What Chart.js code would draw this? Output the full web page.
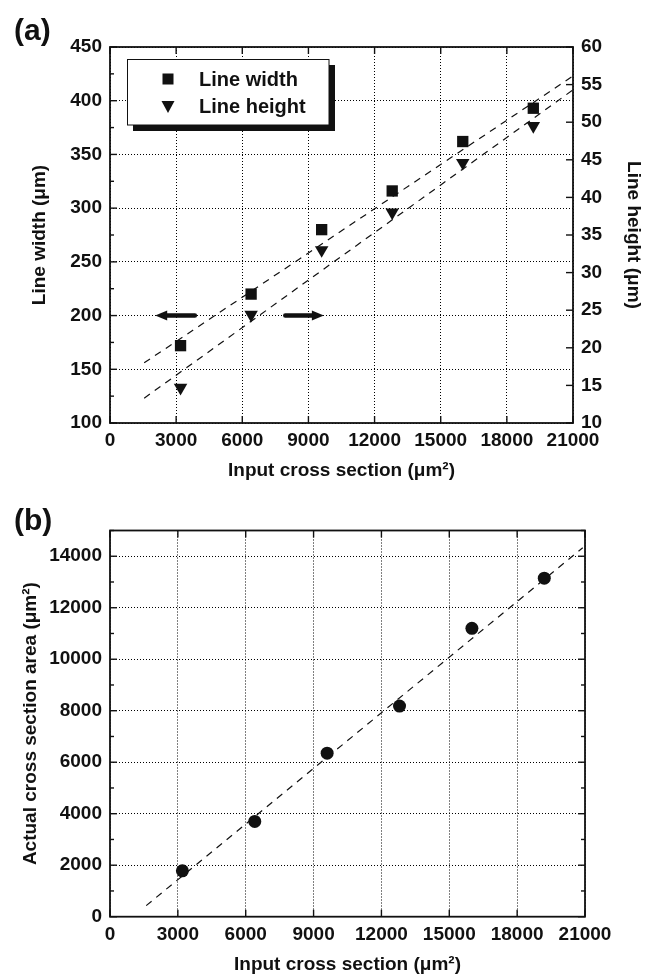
<!DOCTYPE html>
<html>
<head>
<meta charset="utf-8">
<script src="https://cdn.jsdelivr.net/npm/chart.js@4.4.1/dist/chart.umd.min.js"></script>
<style>
  html, body { margin: 0; padding: 0; background: #fff; }
  #wrap { position: relative; width: 658px; height: 977px; }
  #wrap canvas { position: absolute; left: 0; }
  .tag { position: absolute; left: 14px; font: bold 30px "Liberation Sans", Arial, sans-serif; line-height: 30px; color: #111; }
</style>
</head>
<body>
<div id="wrap">
  <canvas id="chartA" width="658" height="490" style="top:0"></canvas>
  <canvas id="chartB" width="658" height="487" style="top:490px"></canvas>
  <div class="tag" style="top:15px">(a)</div>
  <div class="tag" style="top:505px">(b)</div>
</div>
<script>
const inputArea  = [3200, 6400, 9600, 12800, 16000, 19200];
const lineWidth  = [172, 220, 280, 316, 362, 393];
const lineHeight = [14.7, 24.4, 33.0, 38.0, 44.6, 49.5];
const actualArea = [1780, 3700, 6350, 8180, 11200, 13150];

// dashed linear fits (end points)
const widthFitX  = [1550, 21000], widthFitY  = [156, 423];
const heightFitX = [1550, 21000], heightFitY = [13.3, 54.3];
const areaFitX   = [1600, 20900], areaFitY   = [430, 14330];

// axis-hint arrows in panel (a), on the left axis scale
const arrowTail  = [3850, 7950];
const arrowTip   = [2050, 9700];
const arrowLevel = [200, 200];

const INK = '#111';
Chart.defaults.font.family = '"Liberation Sans", Arial, sans-serif';
Chart.defaults.font.size = 19;
Chart.defaults.font.weight = 'bold';
Chart.defaults.color = INK;

const pts = (xs, ys) => xs.map((x, i) => ({ x: x, y: ys[i] }));
const plain = (v) => String(v);

function gridOpts(show) {
  return {
    display: true,
    drawOnChartArea: show,
    drawTicks: false,
    color: '#000',
    lineWidth: 1,
    borderDash: [1, 2]
  };
}
const noBorder = { display: false, dash: [1, 2] };

// frame + inward tick marks, drawn through the chart's scales
function frameTicks(chart, spec) {
  const { ctx, chartArea: a } = chart;
  ctx.save();
  ctx.strokeStyle = INK;
  ctx.lineWidth = 1.8;
  ctx.setLineDash([]);
  ctx.strokeRect(a.left, a.top, a.right - a.left, a.bottom - a.top);
  ctx.lineWidth = 1.4;
  spec.forEach(s => {
    const sc = chart.scales[s.axis];
    for (let v = sc.min; v <= sc.max + 1e-9; v += s.minor) {
      const major = Math.abs(Math.round(v / s.major) * s.major - v) < 1e-6;
      const len = major ? 7 : 4;
      const p = sc.getPixelForValue(v);
      ctx.beginPath();
      if (s.side === 'left')   { ctx.moveTo(a.left, p);   ctx.lineTo(a.left + len, p); }
      if (s.side === 'right')  { ctx.moveTo(a.right, p);  ctx.lineTo(a.right - len, p); }
      if (s.side === 'bottom') { ctx.moveTo(p, a.bottom); ctx.lineTo(p, a.bottom - len); }
      if (s.side === 'top')    { ctx.moveTo(p, a.top);    ctx.lineTo(p, a.top + len); }
      ctx.stroke();
    }
  });
  ctx.restore();
}

function drawArrows(chart) {
  const { ctx } = chart;
  const xs = chart.scales.x, ys = chart.scales.y;
  ctx.save();
  ctx.fillStyle = INK;
  ctx.strokeStyle = INK;
  arrowTail.forEach((t, i) => {
    const x0 = xs.getPixelForValue(t), x1 = xs.getPixelForValue(arrowTip[i]);
    const y = ys.getPixelForValue(arrowLevel[i]);
    const dir = Math.sign(x1 - x0);
    const head = 12;
    ctx.lineWidth = 4.5;
    ctx.lineCap = 'round';
    ctx.beginPath();
    ctx.moveTo(x0, y);
    ctx.lineTo(x1 - dir * head, y);
    ctx.stroke();
    ctx.beginPath();
    ctx.moveTo(x1, y);
    ctx.lineTo(x1 - dir * head, y - 5);
    ctx.lineTo(x1 - dir * head, y + 5);
    ctx.closePath();
    ctx.fill();
  });
  ctx.restore();
}

function drawLegendBox(chart) {
  const { ctx } = chart;
  ctx.save();
  ctx.fillStyle = INK;
  ctx.fillRect(133, 65, 202, 66);
  ctx.fillStyle = '#fff';
  ctx.fillRect(127.5, 59.5, 201.5, 65.5);
  ctx.strokeStyle = INK;
  ctx.lineWidth = 1;
  ctx.strokeRect(127.5, 59.5, 201.5, 65.5);
  ctx.fillStyle = INK;
  ctx.fillRect(162.5, 73.5, 11, 11);
  ctx.beginPath();
  ctx.moveTo(161.5, 101);
  ctx.lineTo(174.5, 101);
  ctx.lineTo(168, 113);
  ctx.closePath();
  ctx.fill();
  ctx.font = 'bold 20px "Liberation Sans", Arial, sans-serif';
  ctx.textBaseline = 'alphabetic';
  ctx.fillText('Line width', 199, 86);
  ctx.fillText('Line height', 199, 113);
  ctx.restore();
}

const fixedSize = (w, h) => (scale) => {
  if (w !== undefined) scale.width = w;
  if (h !== undefined) scale.height = h;
};

// ---------- panel (a) ----------
new Chart(document.getElementById('chartA').getContext('2d'), {
  type: 'scatter',
  data: {
    datasets: [
      { label: 'Line width', data: pts(inputArea, lineWidth), yAxisID: 'y',
        pointStyle: 'rect', pointRadius: 8, backgroundColor: INK, borderColor: INK, borderWidth: 0 },
      { label: 'Line height', data: pts(inputArea, lineHeight), yAxisID: 'y2',
        pointStyle: 'triangle', rotation: 180, pointRadius: 7.8, backgroundColor: INK, borderColor: INK, borderWidth: 0 },
      { label: 'width fit', data: pts(widthFitX, widthFitY), yAxisID: 'y', showLine: true,
        borderColor: INK, borderWidth: 1.2, borderDash: [7, 6], pointRadius: 0 },
      { label: 'height fit', data: pts(heightFitX, heightFitY), yAxisID: 'y2', showLine: true,
        borderColor: INK, borderWidth: 1.2, borderDash: [7, 6], pointRadius: 0 }
    ]
  },
  options: {
    responsive: false,
    animation: false,
    events: [],
    layout: { padding: { top: 47, left: 0, right: 0, bottom: 0 } },
    plugins: { legend: { display: false }, tooltip: { enabled: false } },
    scales: {
      x: {
        type: 'linear', min: 0, max: 21000,
        ticks: { stepSize: 3000, padding: 6, callback: plain, maxRotation: 0 },
        grid: gridOpts(true), border: noBorder,
        title: { display: true, text: 'Input cross section (\u03bcm\u00b2)', padding: { top: 0, bottom: 8 } },
        afterFit: fixedSize(undefined, 67)
      },
      y: {
        type: 'linear', position: 'left', min: 100, max: 450,
        ticks: { stepSize: 50, padding: 8, callback: plain },
        grid: gridOpts(true), border: noBorder,
        title: { display: true, text: 'Line width (\u03bcm)', padding: { top: 28, bottom: 0 } },
        afterFit: fixedSize(110)
      },
      y2: {
        type: 'linear', position: 'right', min: 10, max: 60,
        ticks: { stepSize: 5, padding: 8, callback: plain },
        grid: gridOpts(false), border: noBorder,
        title: { display: true, text: 'Line height (\u03bcm)', padding: { top: 13, bottom: 0 } },
        afterFit: fixedSize(85)
      }
    }
  },
  plugins: [{
    id: 'decorA',
    afterDraw(chart) {
      frameTicks(chart, [
        { axis: 'y', side: 'left', major: 50, minor: 25 },
        { axis: 'y2', side: 'right', major: 5, minor: 5 },
        { axis: 'x', side: 'bottom', major: 3000, minor: 3000 },
        { axis: 'x', side: 'top', major: 3000, minor: 3000 }
      ]);
      drawArrows(chart);
      drawLegendBox(chart);
    }
  }]
});

// ---------- panel (b) ----------
new Chart(document.getElementById('chartB').getContext('2d'), {
  type: 'scatter',
  data: {
    datasets: [
      { label: 'Actual area', data: pts(inputArea, actualArea),
        pointStyle: 'circle', pointRadius: 6.5, backgroundColor: INK, borderColor: INK, borderWidth: 0 },
      { label: 'area fit', data: pts(areaFitX, areaFitY), showLine: true,
        borderColor: INK, borderWidth: 1.2, borderDash: [7, 6], pointRadius: 0 }
    ]
  },
  options: {
    responsive: false,
    animation: false,
    events: [],
    layout: { padding: { top: 40.5, left: 0, right: 73, bottom: 0 } },
    plugins: { legend: { display: false }, tooltip: { enabled: false } },
    scales: {
      x: {
        type: 'linear', min: 0, max: 21000,
        ticks: { stepSize: 3000, padding: 7, callback: plain, maxRotation: 0 },
        grid: gridOpts(true), border: noBorder,
        title: { display: true, text: 'Input cross section (\u03bcm\u00b2)', padding: { top: 0, bottom: 1 } },
        afterFit: fixedSize(undefined, 60.3)
      },
      y: {
        type: 'linear', position: 'left', min: 0, max: 15000,
        afterBuildTicks(scale) {
          scale.ticks = [0, 2000, 4000, 6000, 8000, 10000, 12000, 14000].map(v => ({ value: v }));
        },
        ticks: { padding: 8, callback: plain },
        grid: gridOpts(true), border: noBorder,
        title: { display: true, text: 'Actual cross section area (\u03bcm\u00b2)', padding: { top: 19, bottom: 0 } },
        afterFit: fixedSize(110)
      }
    }
  },
  plugins: [{
    id: 'decorB',
    afterDraw(chart) {
      frameTicks(chart, [
        { axis: 'y', side: 'left', major: 2000, minor: 1000 },
        { axis: 'y', side: 'right', major: 2000, minor: 1000 },
        { axis: 'x', side: 'bottom', major: 3000, minor: 3000 },
        { axis: 'x', side: 'top', major: 3000, minor: 3000 }
      ]);
    }
  }]
});
</script>
</body>
</html>
